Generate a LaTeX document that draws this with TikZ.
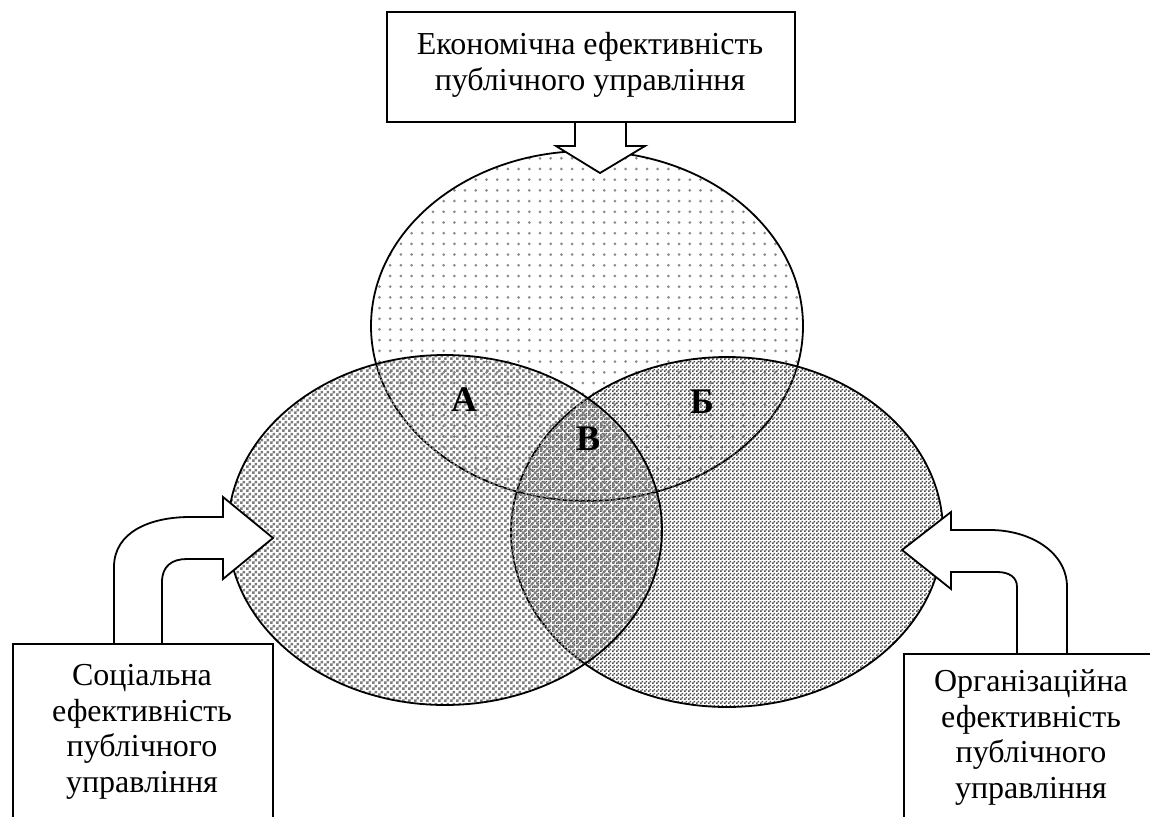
\documentclass[tikz,border=0pt]{standalone}
\usepackage{fontspec}
\setmainfont{Liberation Serif}
\usetikzlibrary{patterns}
% sparse dots for the upper ellipse
\pgfdeclarepatternformonly{sparsedots}{\pgfpoint{-1pt}{-1pt}}{\pgfpoint{12pt}{12pt}}{\pgfpoint{10.7pt}{10.7pt}}{%
  \pgfpathcircle{\pgfpoint{5pt}{5pt}}{1.5pt}%
  \pgfusepath{fill}}
% half-tone checker tiles for the two lower ellipses
\pgfdeclarepatternformonly{checkcoarse}{\pgfpointorigin}{\pgfpoint{6pt}{6pt}}{\pgfpoint{6pt}{6pt}}{%
  \pgfpathrectangle{\pgfpointorigin}{\pgfpoint{3pt}{3pt}}%
  \pgfpathrectangle{\pgfpoint{3pt}{3pt}}{\pgfpoint{3pt}{3pt}}%
  \pgfusepath{fill}}
\pgfdeclarepatternformonly{checkfine}{\pgfpointorigin}{\pgfpoint{4pt}{4pt}}{\pgfpoint{4pt}{4pt}}{%
  \pgfpathrectangle{\pgfpointorigin}{\pgfpoint{2pt}{2pt}}%
  \pgfpathrectangle{\pgfpoint{2pt}{2pt}}{\pgfpoint{2pt}{2pt}}%
  \pgfusepath{fill}}
\begin{document}
\begin{tikzpicture}[x=1pt,y=-1pt,
  frame/.style={draw, line width=1.5pt, fill=white, inner sep=0pt},
  caption/.style={align=center, inner sep=0pt, font=\fontsize{32}{35.5}\selectfont},
  zone/.style={font=\bfseries\fontsize{36}{40}\selectfont, inner sep=0pt},
  outline/.style={draw=black, line width=1.8pt},
  blockarrow/.style={draw=black, fill=white, line width=1.8pt, line join=miter},
]
\useasboundingbox (0,0) rectangle (1150,816);
\clip (0,0) rectangle (1150,816);

% economic efficiency: sparse dotted ellipse
\path[pattern=sparsedots, pattern color=gray!90]
  (587,326) ellipse [x radius=216, y radius=175];
\path[outline] (587,326) ellipse [x radius=216, y radius=175];

% organisational efficiency
\path[pattern=checkfine, pattern color=black!70] (727,532) ellipse [x radius=216, y radius=175];
\path[outline] (727,532) ellipse [x radius=216, y radius=175];

% social efficiency
\path[pattern=checkcoarse, pattern color=black!51] (445,530) ellipse [x radius=217, y radius=175];
\path[outline] (445,530) ellipse [x radius=217, y radius=175];

% zone letters
\node[zone] (za) at (464,400) {А};
\node[zone] (zb) at (702,402) {Б};
\node[zone] (zv) at (588,439) {В};

% block arrows
\draw[blockarrow] (575,122) -- (575,146) -- (556,146) -- (600,173) -- (645,146)
  -- (626,146) -- (626,122);
\draw[blockarrow] (114,643) -- (114,567) .. controls (114,532) and (150,517) .. (190,517)
  -- (223,517) -- (223,497) -- (273,538) -- (223,579) -- (223,559) -- (187,559)
  .. controls (172,559) and (162,566) .. (162,582) -- (162,643);
\draw[blockarrow] (1067,653) -- (1067,587) .. controls (1067,552) and (1030,530) .. (990,530)
  -- (951,530) -- (951,512) -- (902,550) -- (951,589) -- (951,572) -- (997,572)
  .. controls (1009,572) and (1017,577) .. (1017,587) -- (1017,653);

% text boxes
\node[frame, minimum width=408pt, minimum height=110pt] (ecoframe) at (591,67) {};
\node[frame, anchor=north west, minimum width=260pt, minimum height=220pt] (socframe) at (12,643) {};
\node[frame, anchor=north west, minimum width=300pt, minimum height=220pt] (orgframe) at (903,653) {};

\node[caption, anchor=base] (ecotext) at (590,90) {Економічна ефективність\\публічного управління};
\node[caption, anchor=base] (soctext) at (142,792) {Соціальна\\ефективність\\публічного\\управління};
\node[caption, anchor=base] (orgtext) at (1031,798) {Організаційна\\ефективність\\публічного\\управління};
\end{tikzpicture}
\end{document}
